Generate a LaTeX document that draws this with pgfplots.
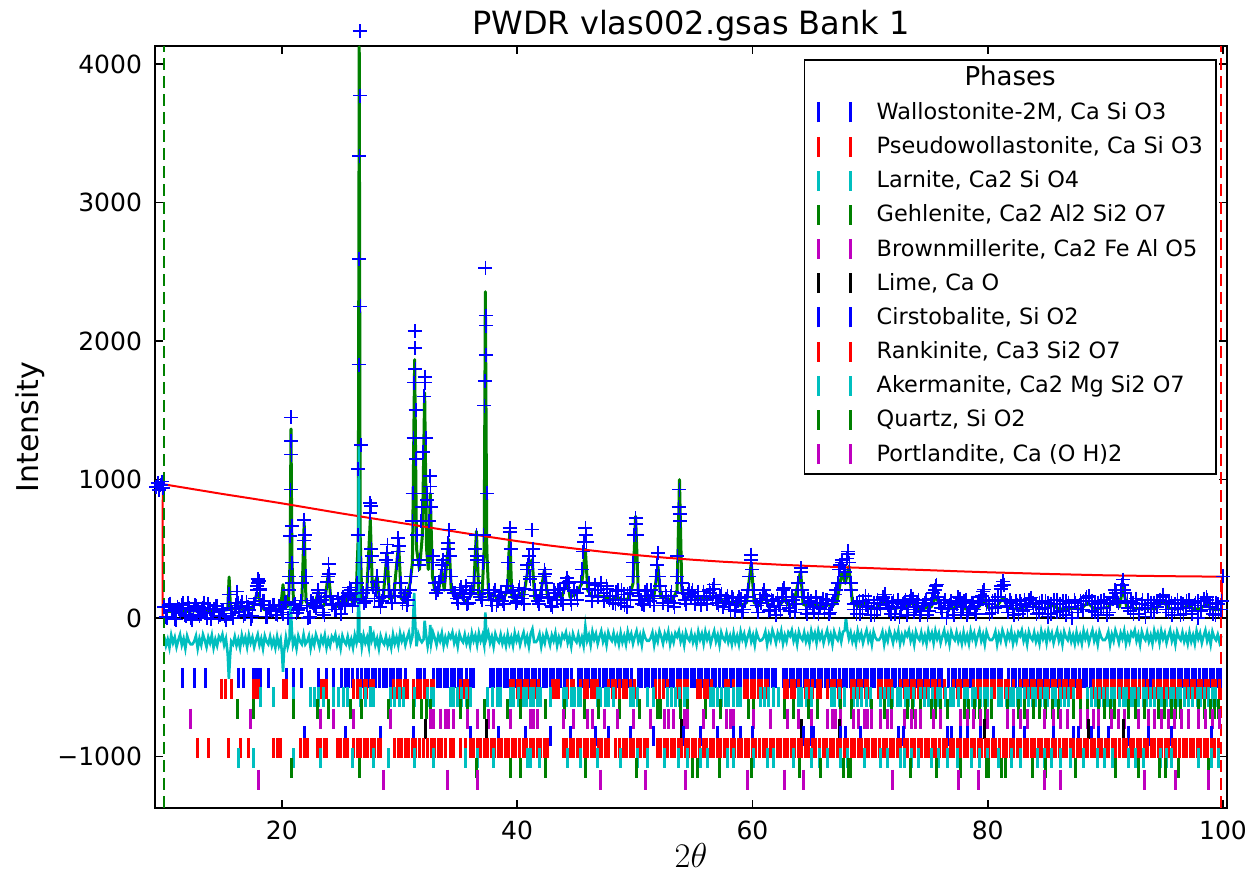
\documentclass[border=0pt]{standalone}
\usepackage{pgfplots}
\pgfplotsset{compat=1.18}
\usepackage{fontspec}
\setmainfont{DejaVu Sans}
\definecolor{mplb}{rgb}{0,0,1}
\definecolor{mplr}{rgb}{1,0,0}
\definecolor{mplc}{rgb}{0,0.75,0.75}
\definecolor{mplg}{rgb}{0,0.5,0}
\definecolor{mplm}{rgb}{0.75,0,0.75}
\pgfplotsset{
 phase/.style={only marks, mark=|, mark size=5pt, draw=#1, mark options={line width=1.5pt, draw=#1},
   legend image code/.code={\draw[line width=1.2pt,draw=#1] (0pt,-4.5pt)--(0pt,5.5pt) (16pt,-4.5pt)--(16pt,5.5pt);}},
 obs/.style={forget plot, draw=mplb, only marks, mark=+, mark size=3.5pt, mark options={draw=mplb, line width=0.85pt}},
}
\begin{document}
\begin{tikzpicture}
\begin{axis}[
 at={(0,0)}, anchor=south west,
 scale only axis, width=536pt, height=381pt,
 xmin=9.22, xmax=100.34, ymin=-1373, ymax=4132,
 clip=false,
 axis line style={line width=0.9pt},
 tick style={line width=0.8pt, black},
 tick align=inside, major tick length=4pt,
 xtick={20,40,60,80,100}, xticklabels={20,40,60,80,100},
 ytick={-1000,0,1000,2000,3000,4000}, yticklabels={−1000,0,1000,2000,3000,4000},
 ticklabel style={font=\fontsize{12.5}{15}\selectfont},
 xticklabel style={yshift=-3pt},
 yticklabel style={xshift=-3pt},
 title={PWDR vlas002.gsas Bank 1},
 every axis title shift=0pt,
 title style={at={(axis description cs:0.5,1)}, anchor=base, yshift=5.5pt, font=\fontsize{16}{19}\selectfont},
 xlabel={$2\theta$},
 every axis x label/.style={at={(axis description cs:0.5,-0.0617)}, anchor=center, font=\fontsize{17}{20}\selectfont},
 ylabel={Intensity},
 every axis y label/.style={at={(axis description cs:-0.1166,0.5)}, rotate=90, anchor=center, font=\fontsize{15}{18}\selectfont},
 legend cell align=left,
 legend style={at={(rel axis cs:0.9904,0.9826)}, anchor=north east, draw=black, line width=0.8pt, fill=white,
   inner xsep=6.5pt, inner ysep=4pt, font=\fontsize{11.2}{13}\selectfont, row sep=5.38pt,
   nodes={inner xsep=0pt, inner ysep=0pt, text height=8.6pt, text depth=2.6pt},
   /tikz/every odd column/.append style={column sep=12.5pt}, cells={anchor=west}},
]
% observed (two interleaved halves of the same scan)
\addplot[obs] coordinates {
(9.32,945)(9.45,975)(9.58,925)(9.7,960)(9.82,985)(9.92,940)
(10,78)(10.25,3)(10.5,103)(10.75,48)(11,-12)(11.25,68)(11.5,93)(11.75,23)(12,108)(12.25,-2)(12.5,58)(12.75,88)(13,13)(13.25,73)(13.5,38)(13.75,98)(14,-7)(14.25,63)(14.5,83)(14.75,18)(15,53)(15.25,-17)(15.5,170)(15.75,33)(16,68)(16.2,190)(16.25,110)(16.5,88)(16.75,13)(17,113)(17.25,58)(17.5,15)(17.75,140)(17.85,230)(17.95,282)(18,250)(18.05,265)(18.15,200)(18.25,95)(18.5,120)(18.75,10)(19,65)(19.25,95)(19.5,25)(19.75,85)(20,40)(20.1,60)(20.25,105)(20.5,0)(20.65,300)(20.7,590)(20.74,927)(20.77,1449)(20.8,1276)(20.82,1180)(20.85,662)(20.9,250)(21,90)(21.25,35)(21.5,70)(21.75,250)(21.85,560)(21.9,710)(21.95,600)(22.05,300)(22.25,0)(22.5,125)(22.75,85)(23,120)(23.1,203)(23.25,115)(23.5,40)(23.75,150)(23.9,300)(23.97,390)(24.05,320)(24.25,95)(24.5,60)(24.75,135)(25,30)(25.2,150)(25.4,100)(25.6,160)(25.75,219)(25.85,200)(26,85)(26.25,140)(26.45,600)(26.5,1077)(26.53,1830)(26.56,2594)(26.59,3335)(26.62,4238)(26.65,3774)(26.68,2251)(26.72,1247)(26.78,400)(27,110)(27.25,200)(27.4,400)(27.48,760)(27.52,831)(27.56,810)(27.62,500)(27.75,220)(28,200)(28.1,300)(28.25,140)(28.5,120)(28.8,300)(28.9,470)(28.97,530)(29.05,400)(29.25,160)(29.5,200)(29.8,400)(29.9,578)(29.97,520)(30.1,250)(30.25,110)(30.5,180)(30.75,130)(31,300)(31.1,700)(31.2,1300)(31.25,1700)(31.29,2071)(31.32,1950)(31.36,1800)(31.42,1150)(31.5,600)(31.7,420)(31.85,700)(32,1200)(32.1,1600)(32.14,1741)(32.18,1700)(32.25,1300)(32.35,900)(32.5,700)(32.62,1023)(32.7,800)(32.85,450)(33,250)(33.25,200)(33.5,300)(33.7,421)(33.85,350)(34.1,500)(34.2,638)(34.3,450)(34.5,200)(34.75,180)(35,110)(35.25,220)(35.5,150)(35.75,100)(36,180)(36.3,250)(36.45,500)(36.54,600)(36.62,450)(36.8,170)(37,130)(37.15,600)(37.22,1534)(37.26,1710)(37.3,2530)(37.34,2184)(37.38,2112)(37.45,900)(37.6,200)(37.8,130)(38,183)(38.25,90)(38.5,160)(38.75,120)(39,180)(39.25,400)(39.37,650)(39.45,500)(39.6,200)(39.8,150)(40,120)(40.2,220)(40.4,170)(40.6,100)(40.85,350)(40.98,445)(41.1,300)(41.28,638)(41.35,500)(41.5,200)(41.75,120)(42,170)(42.25,300)(42.33,349)(42.45,250)(42.75,140)(43,80)(43.25,180)(43.5,200)(43.75,130)(44,220)(44.26,291)(44.4,250)(44.6,130)(44.85,200)(45.1,180)(45.5,350)(45.7,550)(45.8,650)(45.9,550)(46.1,250)(46.35,160)(46.6,240)(46.85,200)(47.1,253)(47.35,180)(47.6,230)(47.85,130)(48.1,160)(48.35,100)(48.6,200)(48.85,110)(49.1,170)(49.35,80)(49.6,180)(49.85,300)(49.95,600)(50.07,720)(50.15,600)(50.3,200)(50.55,130)(50.8,90)(51.05,200)(51.3,120)(51.55,160)(51.8,300)(51.97,470)(52.1,300)(52.35,140)(52.6,190)(52.85,90)(53.1,160)(53.35,110)(53.6,300)(53.72,800)(53.8,927)(53.88,700)(54,250)(54.25,130)(54.5,170)(54.75,150)(54.9,205)(55.1,100)(55.35,160)(55.6,110)(55.85,190)(56.1,130)(56.35,200)(56.6,150)(56.75,241)(57,110)(57.25,160)(57.5,80)(57.75,140)(58,100)(58.25,150)(58.5,50)(58.75,120)(59,140)(59.25,60)(59.5,150)(59.75,300)(59.9,457)(60,350)(60.25,120)(60.5,40)(60.75,110)(61,200)(61.25,130)(61.5,60)(61.75,120)(62,20)(62.25,90)(62.5,150)(62.7,217)(62.9,120)(63.2,50)(63.45,130)(63.7,100)(63.9,250)(64.1,360)(64.25,200)(64.5,60)(64.75,140)(65,120)(65.25,40)(65.5,110)(65.75,70)(66,140)(66.25,130)(66.5,30)(66.75,100)(67,170)(67.25,250)(67.45,380)(67.6,420)(67.75,350)(67.9,300)(68.05,430)(68.15,481)(68.25,400)(68.4,200)(68.6,100)(68.85,30)(69.1,120)(69.35,60)(69.6,160)(69.85,80)(70.1,20)(70.35,110)(70.6,60)(70.85,100)(71.1,140)(71.25,170)(71.5,90)(71.75,30)(72,120)(72.25,80)(72.5,10)(72.75,100)(73,130)(73.25,60)(73.5,160)(73.75,40)(74,110)(74.25,20)(74.5,90)(74.75,130)(75,50)(75.25,140)(75.5,200)(75.65,241)(75.8,150)(76,70)(76.25,110)(76.5,0)(76.75,90)(77,60)(77.25,110)(77.5,150)(77.75,40)(78,120)(78.25,20)(78.5,80)(78.75,110)(79,30)(79.25,120)(79.5,160)(79.7,205)(79.9,100)(80.15,30)(80.4,120)(80.65,70)(80.9,150)(81.1,210)(81.3,264)(81.5,120)(81.75,40)(82,110)(82.25,20)(82.5,90)(82.75,120)(83,50)(83.25,100)(83.5,130)(83.7,147)(83.9,80)(84.15,30)(84.4,110)(84.65,60)(84.9,120)(85.15,10)(85.4,100)(85.65,130)(85.9,40)(86.15,100)(86.4,50)(86.65,120)(86.9,80)(87.15,0)(87.4,110)(87.65,60)(87.9,90)(88.15,120)(88.4,150)(88.6,160)(88.85,50)(89.1,100)(89.35,20)(89.6,120)(89.85,70)(90.1,110)(90.35,40)(90.6,150)(90.8,200)(91,120)(91.3,200)(91.5,277)(91.65,180)(91.9,70)(92.15,120)(92.4,30)(92.65,100)(92.9,60)(93.15,130)(93.4,10)(93.65,90)(93.9,110)(94.15,40)(94.4,100)(94.65,130)(94.9,168)(95.15,60)(95.4,120)(95.65,20)(95.9,100)(96.15,70)(96.4,110)(96.65,30)(96.9,120)(97.15,100)(97.4,50)(97.65,110)(97.9,0)(98.15,90)(98.4,120)(98.6,150)(98.85,60)(99.1,110)(99.35,20)(99.6,100)(99.85,60)(100,300)
};
\addplot[obs] coordinates {
(10.125,5)(10.375,95)(10.625,60)(10.875,-10)(11.125,80)(11.375,35)(11.625,105)(11.875,15)(12.125,70)(12.375,-15)(12.625,90)(12.875,50)(13.125,25)(13.375,110)(13.625,0)(13.875,65)(14.125,40)(14.375,85)(14.625,10)(14.875,55)(15.125,15)(15.375,105)(15.625,70)(15.875,0)(16.125,90)(16.375,45)(16.625,115)(16.875,25)(17.125,80)(17.375,-5)(17.625,100)(17.875,200)(18.125,210)(18.375,120)(18.625,10)(18.875,75)(19.125,50)(19.375,95)(19.625,20)(19.875,65)(20.125,25)(20.375,115)(20.625,200)(20.875,400)(21.125,100)(21.375,55)(21.625,125)(21.875,500)(22.125,90)(22.375,5)(22.625,110)(22.875,70)(23.125,180)(23.375,130)(23.625,20)(23.875,260)(24.125,160)(24.375,105)(24.625,60)(24.875,105)(25.125,110)(25.375,85)(25.625,180)(25.875,170)(26.125,130)(26.375,250)(26.875,180)(27.125,120)(27.375,300)(27.625,450)(27.875,140)(28.125,260)(28.375,80)(28.625,150)(28.875,420)(29.125,200)(29.375,110)(29.625,160)(29.875,480)(30.125,200)(30.375,150)(30.625,90)(30.875,200)(31.125,900)(31.375,1500)(31.625,380)(31.875,800)(32.125,1700)(32.375,850)(32.625,950)(32.875,400)(33.125,180)(33.375,260)(33.625,380)(33.875,300)(34.125,540)(34.375,300)(34.625,180)(34.875,140)(35.125,200)(35.375,170)(35.625,230)(35.875,110)(36.125,200)(36.375,300)(36.625,420)(36.875,150)(37.125,400)(37.375,1900)(37.625,180)(37.875,90)(38.125,200)(38.375,120)(38.625,190)(38.875,100)(39.125,230)(39.375,620)(39.625,190)(39.875,110)(40.125,200)(40.375,140)(40.625,210)(40.875,380)(41.125,280)(41.375,400)(41.625,160)(41.875,100)(42.125,200)(42.375,320)(42.625,150)(42.875,90)(43.125,200)(43.375,130)(43.625,210)(43.875,100)(44.125,250)(44.375,260)(44.625,100)(44.875,190)(45.125,130)(45.375,260)(45.625,480)(45.875,600)(46.125,210)(46.375,120)(46.625,200)(46.875,150)(47.125,230)(47.375,120)(47.625,210)(47.875,160)(48.125,110)(48.375,190)(48.625,130)(48.875,200)(49.125,90)(49.375,170)(49.625,130)(49.875,400)(50.125,680)(50.375,160)(50.625,100)(50.875,190)(51.125,140)(51.375,200)(51.625,90)(51.875,380)(52.125,230)(52.375,110)(52.625,160)(52.875,120)(53.125,190)(53.375,80)(53.625,450)(53.875,750)(54.125,180)(54.375,100)(54.625,200)(54.875,180)(55.125,130)(55.375,190)(55.625,90)(55.875,160)(56.125,100)(56.375,180)(56.625,210)(56.875,140)(57.125,90)(57.375,170)(57.625,110)(57.875,160)(58.125,60)(58.375,140)(58.625,90)(58.875,150)(59.125,40)(59.375,120)(59.625,200)(59.875,420)(60.125,200)(60.375,90)(60.625,140)(60.875,170)(61.125,160)(61.375,50)(61.625,130)(61.875,80)(62.125,140)(62.375,60)(62.625,200)(62.875,150)(63.125,70)(63.375,150)(63.625,40)(63.875,200)(64.125,330)(64.375,150)(64.625,30)(64.875,110)(65.125,80)(65.375,150)(65.625,30)(65.875,110)(66.125,60)(66.375,130)(66.625,40)(66.875,120)(67.125,200)(67.375,350)(67.625,400)(67.875,330)(68.125,460)(68.375,250)(68.625,60)(68.875,110)(69.125,30)(69.375,120)(69.625,90)(69.875,130)(70.125,60)(70.375,20)(70.625,130)(70.875,70)(71.125,150)(71.375,120)(71.625,60)(71.875,110)(72.125,30)(72.375,130)(72.625,70)(72.875,110)(73.125,20)(73.375,120)(73.625,140)(73.875,80)(74.125,130)(74.375,50)(74.625,110)(74.875,20)(75.125,100)(75.375,180)(75.625,230)(75.875,110)(76.125,40)(76.375,130)(76.625,60)(76.875,120)(77.125,20)(77.375,100)(77.625,140)(77.875,80)(78.125,130)(78.375,40)(78.625,110)(78.875,60)(79.125,90)(79.375,150)(79.625,190)(79.875,130)(80.125,100)(80.375,40)(80.625,130)(80.875,80)(81.125,230)(81.375,240)(81.625,90)(81.875,130)(82.125,60)(82.375,120)(82.625,30)(82.875,100)(83.125,130)(83.375,60)(83.625,140)(83.875,110)(84.125,100)(84.375,40)(84.625,120)(84.875,70)(85.125,110)(85.375,30)(85.625,100)(85.875,130)(86.125,50)(86.375,120)(86.625,20)(86.875,110)(87.125,80)(87.375,130)(87.625,40)(87.875,120)(88.125,60)(88.375,140)(88.625,150)(88.875,120)(89.125,40)(89.375,110)(89.625,70)(89.875,130)(90.125,20)(90.375,100)(90.625,140)(90.875,180)(91.125,110)(91.375,240)(91.625,200)(91.875,120)(92.125,50)(92.375,110)(92.625,140)(92.875,30)(93.125,100)(93.375,70)(93.625,130)(93.875,40)(94.125,110)(94.375,80)(94.625,120)(94.875,150)(95.125,100)(95.375,40)(95.625,110)(95.875,60)(96.125,130)(96.375,20)(96.625,100)(96.875,70)(97.125,130)(97.375,30)(97.625,90)(97.875,120)(98.125,50)(98.375,140)(98.625,130)(98.875,80)(99.125,30)(99.375,110)(99.625,60)(99.875,120)
};
% calculated
\addplot[forget plot, draw=mplg, line width=1.5pt, line join=round] coordinates {
(10,45)(10.5,48)(11,46)(11.5,50)(12,47)(12.5,52)(13,48)(13.5,55)(14,50)(14.5,52)(15,55)(15.4,60)(15.52,296)(15.64,60)(16,70)(16.2,120)(16.4,65)(17,58)(17.5,75)(17.9,180)(18,175)(18.2,90)(18.5,60)(19,55)(19.5,60)(19.9,70)(20.1,240)(20.3,75)(20.55,90)(20.7,400)(20.78,1365)(20.86,420)(21,100)(21.4,70)(21.7,110)(21.9,690)(22.05,120)(22.4,80)(22.8,100)(23.1,190)(23.3,85)(23.6,90)(23.97,330)(24.2,100)(24.6,80)(25,95)(25.2,150)(25.4,90)(25.8,200)(26,110)(26.3,120)(26.5,600)(26.58,4125)(26.66,600)(26.8,120)(27.2,150)(27.52,710)(27.7,200)(28.1,300)(28.3,120)(28.6,130)(28.94,472)(29.15,140)(29.5,150)(29.93,540)(30.15,140)(30.5,120)(30.9,250)(31.1,400)(31.29,1866)(31.45,500)(31.7,350)(31.95,600)(32.14,1626)(32.3,500)(32.45,350)(32.62,900)(32.8,300)(33,200)(33.3,180)(33.6,350)(33.8,200)(34.2,566)(34.4,200)(34.7,150)(35.2,156)(35.6,120)(36,150)(36.3,200)(36.54,626)(36.75,150)(37,130)(37.2,500)(37.3,2357)(37.42,500)(37.6,130)(38,180)(38.4,120)(38.8,130)(39.2,200)(39.37,626)(39.55,150)(39.9,130)(40.2,183)(40.5,130)(40.98,380)(41.28,421)(41.5,140)(41.9,130)(42.33,349)(42.6,140)(43,130)(43.5,160)(43.8,150)(44.26,277)(44.5,150)(45,170)(45.5,250)(45.8,494)(46,200)(46.4,150)(46.8,160)(47.1,156)(47.5,150)(48,130)(48.5,150)(49,130)(49.5,140)(49.85,250)(50.07,734)(50.3,180)(50.7,130)(51.2,150)(51.6,140)(51.97,373)(52.2,150)(52.7,140)(53.2,130)(53.6,200)(53.8,999)(54,200)(54.4,140)(54.9,170)(55.3,130)(55.8,150)(56.3,140)(56.7,160)(57.2,130)(57.7,120)(58.2,110)(58.6,100)(59,90)(59.5,110)(59.9,397)(60.15,110)(60.6,90)(61,156)(61.4,90)(61.9,80)(62.3,90)(62.7,132)(63.1,90)(63.5,100)(64.1,337)(64.3,100)(64.8,80)(65.3,100)(65.8,80)(66.3,100)(66.8,85)(67.2,120)(67.6,325)(67.9,250)(68.2,373)(68.5,110)(69,80)(69.5,110)(70,75)(70.5,70)(71.2,120)(71.6,75)(72.2,70)(72.8,80)(73.5,108)(74,70)(74.6,70)(75.2,80)(75.6,156)(76,75)(76.6,65)(77.1,70)(77.6,100)(78.1,65)(78.7,70)(79.2,75)(79.7,132)(80.1,70)(80.7,75)(81.3,147)(81.7,75)(82.3,65)(82.9,70)(83.7,110)(84.2,70)(84.8,65)(85.5,90)(86.1,65)(86.7,65)(87.3,70)(87.9,65)(88.5,110)(89,70)(89.6,70)(90.2,75)(90.8,130)(91.2,80)(91.5,228)(91.8,80)(92.4,70)(93,65)(93.6,70)(94.3,65)(94.9,120)(95.4,70)(96,65)(96.6,70)(97,90)(97.5,65)(98,65)(98.6,100)(99,65)(99.5,60)(99.9,60)
};
% background
\addplot[forget plot, draw=mplr, line width=1pt] coordinates {
(9.87,0)(9.88,968)(10,965)(12.5,930)(15,895)(17.5,862)(20,828)(22.5,792)(25,756)(27.5,722)(30,688)(32.5,654)(35,620)(37.5,587)(40,555)(42.5,526)(45,500)(47.5,476)(50,455)(52.5,436)(55,420)(57.5,406)(60,395)(62.5,384)(65,375)(67.5,367)(70,360)(72.5,352)(75,345)(77.5,337)(80,330)(82.5,324)(85,318)(87.5,313)(90,308)(92.5,305)(95,302)(97.5,300)(99.9,298)(99.91,0)
};
% difference
\addplot[forget plot, draw=mplc, line width=1.3pt] coordinates {
(10,-135)(10.15,-200)(10.3,-155)(10.45,-215)(10.6,-125)(10.75,-180)(10.9,-140)(11.05,-210)(11.2,-160)(11.35,-120)(11.5,-195)(11.65,-150)(11.8,-220)(11.95,-130)(12.1,-170)(12.25,-190)
(12.4,-190)(12.55,-170)(12.7,-130)(12.85,-220)(13,-150)(13.15,-195)(13.3,-120)(13.45,-160)(13.6,-210)(13.75,-140)(13.9,-180)(14.05,-125)(14.2,-215)(14.35,-155)(14.5,-200)(14.65,-135)
(14.8,-160)(14.95,-120)(15.1,-195)(15.25,-150)(15.4,-260)(15.5,-440)(15.6,-280)(15.7,-170)(15.85,-190)(16,-135)(16.15,-200)(16.3,-155)(16.45,-215)(16.6,-125)(16.75,-180)(16.9,-140)(17.05,-210)
(17.2,-125)(17.35,-180)(17.5,-140)(17.65,-210)(17.8,-160)(17.95,-120)(18.1,-195)(18.25,-150)(18.4,-220)(18.55,-130)(18.7,-170)(18.85,-190)(19,-135)(19.15,-200)(19.3,-155)(19.45,-215)
(19.6,-135)(19.75,-200)(19.9,-155)(20.02,-260)(20.1,-390)(20.18,-250)(20.35,-140)(20.5,-210)(20.65,-160)(20.75,120)(20.85,-90)(20.95,-195)(21.1,-150)(21.25,-220)(21.4,-130)(21.55,-170)(21.7,-190)(21.85,-120)
(22,-190)(22.15,-170)(22.3,-130)(22.45,-220)(22.6,-150)(22.75,-195)(22.9,-120)(23.05,-160)(23.2,-210)(23.35,-140)(23.5,-180)(23.65,-125)(23.8,-215)(23.95,-155)(24.1,-200)(24.25,-135)
(24.4,-160)(24.55,-120)(24.7,-195)(24.85,-150)(25,-220)(25.15,-130)(25.3,-170)(25.45,-190)(25.6,-135)(25.75,-200)(25.9,-155)(26.05,-215)(26.2,-125)(26.35,-180)(26.45,-140)(26.52,300)(26.55,1240)(26.58,-100)(26.63,-180)(26.68,-110)(26.8,-210)
(26.95,-125)(27.1,-180)(27.25,-140)(27.4,-210)(27.52,-60)(27.65,-160)(27.8,-120)(27.95,-195)(28.1,-150)(28.25,-220)(28.4,-130)(28.55,-170)(28.7,-190)(28.85,-135)(29,-200)(29.15,-155)(29.3,-215)
(29.45,-120)(29.6,-185)(29.75,-140)(29.9,-200)(30.05,-110)(30.2,-165)(30.35,-125)(30.5,-195)(30.65,-145)(30.8,-105)(30.95,-180)(31.1,-135)(31.25,180)(31.35,-60)(31.45,-205)(31.6,-115)(31.75,-155)
(31.9,-175)(32.05,-155)(32.14,-20)(32.25,-115)(32.4,-205)(32.55,-135)(32.62,-50)(32.7,-180)(32.85,-105)(33,-145)(33.15,-195)(33.3,-125)(33.45,-165)(33.6,-110)(33.75,-200)(33.9,-140)(34.05,-185)(34.2,-120)
(34.35,-145)(34.5,-105)(34.65,-180)(34.8,-135)(34.95,-205)(35.1,-115)(35.25,-155)(35.4,-175)(35.55,-120)(35.7,-185)(35.85,-140)(36,-200)(36.15,-110)(36.3,-165)(36.45,-125)(36.6,-195)
(36.75,-110)(36.9,-165)(37.05,-125)(37.2,-195)(37.3,40)(37.4,-145)(37.55,-105)(37.7,-180)(37.85,-135)(38,-205)(38.15,-115)(38.3,-155)(38.45,-175)(38.6,-120)(38.75,-185)(38.9,-140)(39.05,-200)
(39.2,-120)(39.35,-185)(39.5,-140)(39.65,-200)(39.8,-110)(39.95,-165)(40.1,-125)(40.25,-195)(40.4,-145)(40.55,-105)(40.7,-180)(40.85,-135)(41,-205)(41.15,-115)(41.3,-80)(41.45,-175)
(41.6,-175)(41.75,-155)(41.9,-115)(42.05,-205)(42.2,-135)(42.35,-180)(42.5,-105)(42.65,-145)(42.8,-195)(42.95,-125)(43.1,-165)(43.25,-110)(43.4,-200)(43.55,-140)(43.7,-185)(43.85,-120)
(44,-145)(44.15,-105)(44.3,-180)(44.45,-135)(44.6,-205)(44.75,-115)(44.9,-155)(45.05,-175)(45.2,-120)(45.35,-185)(45.5,-140)(45.65,-200)(45.8,-60)(45.95,-165)(46.1,-125)(46.25,-195)
(46.4,-100)(46.55,-155)(46.7,-115)(46.85,-185)(47,-135)(47.15,-95)(47.3,-170)(47.45,-125)(47.6,-195)(47.75,-105)(47.9,-145)(48.05,-165)(48.2,-110)(48.35,-175)(48.5,-130)(48.65,-190)
(48.8,-110)(48.95,-175)(49.1,-130)(49.25,-190)(49.4,-100)(49.55,-155)(49.7,-115)(49.85,-185)(50,-135)(50.15,-95)(50.3,-170)(50.45,-125)(50.6,-195)(50.75,-105)(50.9,-145)(51.05,-165)
(51.2,-165)(51.35,-145)(51.5,-105)(51.65,-195)(51.8,-125)(51.95,-170)(52.1,-95)(52.25,-135)(52.4,-185)(52.55,-115)(52.7,-155)(52.85,-100)(53,-190)(53.15,-130)(53.3,-175)(53.45,-110)
(53.6,-135)(53.75,-95)(53.9,-170)(54.05,-125)(54.2,-195)(54.35,-105)(54.5,-145)(54.65,-165)(54.8,-110)(54.95,-175)(55.1,-130)(55.25,-190)(55.4,-100)(55.55,-155)(55.7,-115)(55.85,-185)
(56,-100)(56.15,-155)(56.3,-115)(56.45,-185)(56.6,-135)(56.75,-95)(56.9,-170)(57.05,-125)(57.2,-195)(57.35,-105)(57.5,-145)(57.65,-165)(57.8,-110)(57.95,-175)(58.1,-130)(58.25,-190)
(58.4,-110)(58.55,-175)(58.7,-130)(58.85,-190)(59,-100)(59.15,-155)(59.3,-115)(59.45,-185)(59.6,-135)(59.75,-95)(59.9,-170)(60.05,-125)(60.2,-195)(60.35,-105)(60.5,-145)(60.65,-165)
(60.8,-160)(60.95,-140)(61.1,-100)(61.25,-190)(61.4,-120)(61.55,-165)(61.7,-90)(61.85,-130)(62,-180)(62.15,-110)(62.3,-150)(62.45,-95)(62.6,-185)(62.75,-125)(62.9,-170)(63.05,-105)
(63.2,-130)(63.35,-90)(63.5,-165)(63.65,-120)(63.8,-190)(63.95,-100)(64.1,-140)(64.25,-160)(64.4,-105)(64.55,-170)(64.7,-125)(64.85,-185)(65,-95)(65.15,-150)(65.3,-110)(65.45,-180)
(65.6,-95)(65.75,-150)(65.9,-110)(66.05,-180)(66.2,-130)(66.35,-90)(66.5,-165)(66.65,-120)(66.8,-190)(66.95,-100)(67.1,-140)(67.25,-160)(67.4,-105)(67.55,-170)(67.7,-100)(67.85,-90)(67.95,0)(68.05,-80)(68.2,-150)
(68.35,-105)(68.5,-170)(68.65,-125)(68.8,-185)(68.95,-95)(69.1,-150)(69.25,-110)(69.4,-180)(69.55,-130)(69.7,-90)(69.85,-165)(70,-120)(70.15,-190)(70.3,-100)(70.45,-140)(70.6,-160)
(70.75,-160)(70.9,-140)(71.05,-100)(71.2,-190)(71.35,-120)(71.5,-165)(71.65,-90)(71.8,-130)(71.95,-180)(72.1,-110)(72.25,-150)(72.4,-95)(72.55,-185)(72.7,-125)(72.85,-170)(73,-105)
(73.15,-130)(73.3,-90)(73.45,-165)(73.6,-120)(73.75,-190)(73.9,-100)(74.05,-140)(74.2,-160)(74.35,-105)(74.5,-170)(74.65,-125)(74.8,-185)(74.95,-95)(75.1,-150)(75.25,-110)(75.4,-180)
(75.55,-95)(75.7,-150)(75.85,-110)(76,-180)(76.15,-130)(76.3,-90)(76.45,-165)(76.6,-120)(76.75,-190)(76.9,-100)(77.05,-140)(77.2,-160)(77.35,-105)(77.5,-170)(77.65,-125)(77.8,-185)
(77.95,-105)(78.1,-170)(78.25,-125)(78.4,-185)(78.55,-95)(78.7,-150)(78.85,-110)(79,-180)(79.15,-130)(79.3,-90)(79.45,-165)(79.6,-120)(79.75,-190)(79.9,-100)(80.05,-140)(80.2,-160)
(80.35,-160)(80.5,-140)(80.65,-100)(80.8,-190)(80.95,-120)(81.1,-165)(81.25,-90)(81.4,-130)(81.55,-180)(81.7,-110)(81.85,-150)(82,-95)(82.15,-185)(82.3,-125)(82.45,-170)(82.6,-105)
(82.75,-130)(82.9,-90)(83.05,-165)(83.2,-120)(83.35,-190)(83.5,-100)(83.65,-140)(83.8,-160)(83.95,-105)(84.1,-170)(84.25,-125)(84.4,-185)(84.55,-95)(84.7,-150)(84.85,-110)(85,-180)
(85.15,-95)(85.3,-150)(85.45,-110)(85.6,-180)(85.75,-130)(85.9,-90)(86.05,-165)(86.2,-120)(86.35,-190)(86.5,-100)(86.65,-140)(86.8,-160)(86.95,-105)(87.1,-170)(87.25,-125)(87.4,-185)
(87.55,-105)(87.7,-170)(87.85,-125)(88,-185)(88.15,-95)(88.3,-150)(88.45,-110)(88.6,-180)(88.75,-130)(88.9,-90)(89.05,-165)(89.2,-120)(89.35,-190)(89.5,-100)(89.65,-140)(89.8,-160)
(89.95,-160)(90.1,-140)(90.25,-100)(90.4,-190)(90.55,-120)(90.7,-165)(90.85,-90)(91,-130)(91.15,-180)(91.3,-110)(91.45,-150)(91.6,-95)(91.75,-185)(91.9,-125)(92.05,-170)(92.2,-105)
(92.35,-130)(92.5,-90)(92.65,-165)(92.8,-120)(92.95,-190)(93.1,-100)(93.25,-140)(93.4,-160)(93.55,-105)(93.7,-170)(93.85,-125)(94,-185)(94.15,-95)(94.3,-150)(94.45,-110)(94.6,-180)
(94.75,-95)(94.9,-150)(95.05,-110)(95.2,-180)(95.35,-130)(95.5,-90)(95.65,-165)(95.8,-120)(95.95,-190)(96.1,-100)(96.25,-140)(96.4,-160)(96.55,-105)(96.7,-170)(96.85,-125)(97,-185)
(97.15,-105)(97.3,-170)(97.45,-125)(97.6,-185)(97.75,-95)(97.9,-150)(98.05,-110)(98.2,-180)(98.35,-130)(98.5,-90)(98.65,-165)(98.8,-120)(98.95,-190)(99.1,-100)(99.25,-140)(99.4,-160)(99.55,-120)(99.7,-175)(99.85,-130)
};
% zero line
\addplot[forget plot, draw=black, line width=1pt] coordinates {(9.22,0)(100.34,0)};
% limits
\addplot[forget plot, draw=mplg, line width=1pt, dash pattern=on 6pt off 3pt] coordinates {(9.99,-1373)(9.99,4132)};
\addplot[forget plot, draw=mplr, line width=1pt, dash pattern=on 6pt off 3pt] coordinates {(99.84,-1373)(99.84,4132)};
% legend title
\addlegendimage{empty legend}
\addlegendentry{\makebox[133.4pt][c]{\fontsize{13}{15}\selectfont Phases}}
% phase tick rows
\addplot[phase=mplb] coordinates {
(11.6,-433)(12.6,-433)(13.5,-433)(16.3,-433)(16.7,-433)(17.6,-433)(17.8,-433)(18,-433)(18.2,-433)(18.9,-433)(20.4,-433)(21,-433)(21.7,-433)(23.1,-433)(23.8,-433)(24.4,-433)(25.1,-433)(25.4,-433)(25.7,-433)(26,-433)(26.4,-433)(26.8,-433)(27.1,-433)(27.4,-433)(27.7,-433)(28,-433)(28.3,-433)(28.6,-433)(28.9,-433)(29.2,-433)(29.5,-433)(29.8,-433)(30.1,-433)(30.5,-433)(31.5,-433)(31.8,-433)(32.1,-433)(32.9,-433)(33.2,-433)(33.5,-433)(33.8,-433)(34.1,-433)(34.4,-433)(34.7,-433)(35,-433)(35.3,-433)(35.7,-433)(36,-433)(36.3,-433)(37.7,-433)(38,-433)(38.3,-433)(38.6,-433)(38.9,-433)(39.2,-433)(39.5,-433)(39.8,-433)(40.1,-433)(40.4,-433)(40.7,-433)(41,-433)(41.3,-433)(41.6,-433)(41.9,-433)(42.2,-433)(42.5,-433)(42.8,-433)(43.1,-433)(43.4,-433)(43.7,-433)(44,-433)(44.3,-433)(44.6,-433)(45.2,-433)(45.5,-433)(45.8,-433)(46.1,-433)(46.4,-433)(46.7,-433)(47,-433)(47.3,-433)(47.6,-433)(47.9,-433)(48.2,-433)(48.5,-433)(48.8,-433)(49.1,-433)(49.4,-433)(49.7,-433)(50.3,-433)(50.6,-433)(50.9,-433)(51.2,-433)(51.5,-433)(51.8,-433)(52.1,-433)(52.4,-433)(52.7,-433)(53,-433)(53.3,-433)(53.6,-433)(53.9,-433)(54.2,-433)(54.5,-433)(54.8,-433)(55.1,-433)(55.4,-433)(55.7,-433)(56,-433)(56.3,-433)(56.6,-433)(56.9,-433)(57.2,-433)(57.5,-433)(57.8,-433)(58.1,-433)(58.4,-433)(58.7,-433)(59,-433)(59.3,-433)(59.6,-433)(59.9,-433)(60.2,-433)(60.5,-433)(60.8,-433)(61.1,-433)(61.4,-433)(61.7,-433)(62,-433)(62.6,-433)(62.9,-433)(63.2,-433)(63.5,-433)(63.8,-433)(64.1,-433)(64.4,-433)(64.7,-433)(65,-433)(65.3,-433)(65.6,-433)(65.9,-433)(66.2,-433)(66.5,-433)(66.8,-433)(67.1,-433)(67.4,-433)(67.7,-433)(68,-433)(68.3,-433)(68.6,-433)(68.9,-433)(69.2,-433)(69.5,-433)(69.8,-433)(70.1,-433)(70.4,-433)(70.7,-433)(71,-433)(71.3,-433)(71.6,-433)(71.9,-433)(72.2,-433)(72.5,-433)(72.8,-433)(73.1,-433)(73.4,-433)(73.7,-433)(74,-433)(74.3,-433)(74.6,-433)(74.9,-433)(75.2,-433)(75.5,-433)(75.8,-433)(76.1,-433)(76.7,-433)(77,-433)(77.3,-433)(77.6,-433)(77.9,-433)(78.2,-433)(78.5,-433)(78.8,-433)(79.1,-433)(79.4,-433)(79.7,-433)(80,-433)(80.3,-433)(80.6,-433)(80.9,-433)(81.2,-433)(81.8,-433)(82.1,-433)(82.4,-433)(82.7,-433)(83,-433)(83.3,-433)(83.6,-433)(83.9,-433)(84.2,-433)(84.5,-433)(84.8,-433)(85.1,-433)(85.4,-433)(85.7,-433)(86,-433)(86.3,-433)(86.6,-433)(86.9,-433)(87.2,-433)(87.5,-433)(87.8,-433)(88.1,-433)(88.4,-433)(88.7,-433)(89,-433)(89.3,-433)(89.6,-433)(89.9,-433)(90.2,-433)(90.5,-433)(90.8,-433)(91.1,-433)(91.4,-433)(91.7,-433)(92,-433)(92.3,-433)(92.6,-433)(92.9,-433)(93.2,-433)(93.5,-433)(93.8,-433)(94.1,-433)(94.4,-433)(94.7,-433)(95,-433)(95.3,-433)(95.6,-433)(95.9,-433)(96.2,-433)(96.5,-433)(96.8,-433)(97.1,-433)(97.4,-433)(97.7,-433)(98,-433)(98.3,-433)(98.6,-433)(98.9,-433)(99.2,-433)(99.5,-433)(99.8,-433)
};
\addlegendentry{Wallostonite-2M, Ca Si O3}
\addplot[phase=mplr] coordinates {
(14.9,-511)(15.2,-511)(15.7,-511)(17.6,-511)(17.8,-511)(18,-511)(20.1,-511)(20.4,-511)(23.4,-511)(23.6,-511)(23.8,-511)(26.1,-511)(26.4,-511)(26.7,-511)(27,-511)(27.2,-511)(27.5,-511)(27.8,-511)(29.5,-511)(29.8,-511)(30.1,-511)(30.4,-511)(30.7,-511)(31.2,-511)(31.5,-511)(31.8,-511)(32.1,-511)(32.4,-511)(32.7,-511)(32.9,-511)(35.2,-511)(35.5,-511)(35.8,-511)(39.4,-511)(39.7,-511)(40,-511)(40.3,-511)(40.6,-511)(40.9,-511)(41.2,-511)(41.5,-511)(41.8,-511)(43,-511)(43.3,-511)(43.5,-511)(44.3,-511)(44.6,-511)(44.8,-511)(45.4,-511)(45.7,-511)(46,-511)(46.3,-511)(46.6,-511)(46.8,-511)(47.8,-511)(48.1,-511)(48.4,-511)(48.7,-511)(49,-511)(49.3,-511)(49.6,-511)(50,-511)(51.8,-511)(52.1,-511)(52.4,-511)(52.8,-511)(53.6,-511)(53.9,-511)(54.2,-511)(54.5,-511)(55.3,-511)(55.6,-511)(55.9,-511)(56.2,-511)(56.5,-511)(57.7,-511)(58,-511)(58.4,-511)(59.3,-511)(59.6,-511)(59.9,-511)(60.2,-511)(60.5,-511)(60.8,-511)(61.1,-511)(61.3,-511)(62.7,-511)(63,-511)(63.3,-511)(63.6,-511)(63.9,-511)(64.5,-511)(64.8,-511)(65.1,-511)(65.5,-511)(65.8,-511)(66.4,-511)(66.7,-511)(67,-511)(67.3,-511)(67.5,-511)(68.4,-511)(68.7,-511)(69,-511)(69.3,-511)(69.6,-511)(69.8,-511)(70.7,-511)(71,-511)(71.3,-511)(71.6,-511)(71.8,-511)(72.6,-511)(72.9,-511)(73.2,-511)(73.5,-511)(73.8,-511)(74.1,-511)(74.4,-511)(74.7,-511)(75,-511)(75.3,-511)(75.6,-511)(75.9,-511)(76.3,-511)(77.1,-511)(77.4,-511)(77.7,-511)(78,-511)(78.3,-511)(78.8,-511)(79.1,-511)(79.4,-511)(79.7,-511)(80,-511)(80.3,-511)(80.6,-511)(80.9,-511)(81.2,-511)(81.5,-511)(81.8,-511)(82.2,-511)(82.8,-511)(83.1,-511)(83.4,-511)(83.7,-511)(84,-511)(84.3,-511)(84.6,-511)(84.9,-511)(85.2,-511)(85.5,-511)(85.8,-511)(86.1,-511)(86.4,-511)(86.7,-511)(87,-511)(87.3,-511)(87.6,-511)(87.9,-511)(89,-511)(89.3,-511)(89.6,-511)(89.9,-511)(90.2,-511)(90.5,-511)(90.8,-511)(91.1,-511)(91.4,-511)(91.7,-511)(92,-511)(92.3,-511)(92.6,-511)(92.9,-511)(93.2,-511)(93.6,-511)(94.1,-511)(94.4,-511)(94.7,-511)(95,-511)(95.3,-511)(95.6,-511)(95.9,-511)(96.2,-511)(96.4,-511)(96.7,-511)(97,-511)(97.3,-511)(97.6,-511)(97.9,-511)(98.2,-511)(98.5,-511)(98.8,-511)(99.1,-511)(99.4,-511)(99.7,-511)
};
\addlegendentry{Pseudowollastonite, Ca Si O3}
\addplot[phase=mplc] coordinates {
(18.2,-571)(19.3,-571)(21,-571)(22.4,-571)(22.8,-571)(23.1,-571)(23.5,-571)(24.4,-571)(24.8,-571)(25.2,-571)(25.6,-571)(26.7,-571)(27.1,-571)(27.5,-571)(27.8,-571)(29.2,-571)(29.6,-571)(30,-571)(30.3,-571)(31.3,-571)(32.4,-571)(32.7,-571)(32.9,-571)(34.3,-571)(34.6,-571)(34.9,-571)(35.3,-571)(35.7,-571)(36,-571)(37.5,-571)(37.9,-571)(38.3,-571)(38.6,-571)(39.4,-571)(39.7,-571)(40.1,-571)(40.5,-571)(40.8,-571)(41.1,-571)(41.4,-571)(41.7,-571)(42,-571)(42.8,-571)(43.9,-571)(44.2,-571)(44.6,-571)(44.9,-571)(45.2,-571)(45.4,-571)(46.8,-571)(47.1,-571)(47.5,-571)(47.8,-571)(48.2,-571)(49.6,-571)(49.9,-571)(50.2,-571)(51.1,-571)(51.6,-571)(52.8,-571)(53.1,-571)(53.5,-571)(53.8,-571)(54.2,-571)(54.5,-571)(56.4,-571)(56.7,-571)(57,-571)(57.4,-571)(57.7,-571)(58,-571)(58.4,-571)(58.7,-571)(59,-571)(60.7,-571)(61,-571)(61.4,-571)(61.8,-571)(62.2,-571)(63.9,-571)(64.2,-571)(64.6,-571)(65,-571)(66.7,-571)(67,-571)(67.4,-571)(67.8,-571)(68.6,-571)(68.9,-571)(69.3,-571)(69.7,-571)(70,-571)(70.9,-571)(71.2,-571)(71.6,-571)(71.9,-571)(72.3,-571)(72.6,-571)(73,-571)(73.3,-571)(73.7,-571)(74.3,-571)(74.6,-571)(75,-571)(75.3,-571)(75.7,-571)(76,-571)(76.4,-571)(76.8,-571)(77.1,-571)(77.5,-571)(78,-571)(78.3,-571)(78.7,-571)(79,-571)(79.4,-571)(79.7,-571)(80,-571)(80.3,-571)(80.9,-571)(81.2,-571)(81.6,-571)(81.9,-571)(82.2,-571)(82.5,-571)(82.8,-571)(83.1,-571)(83.5,-571)(83.8,-571)(84.1,-571)(84.5,-571)(84.8,-571)(85.1,-571)(85.5,-571)(85.8,-571)(86.2,-571)(86.5,-571)(86.9,-571)(87.3,-571)(88.5,-571)(88.8,-571)(89.2,-571)(89.5,-571)(89.8,-571)(90.2,-571)(90.5,-571)(90.8,-571)(91.2,-571)(91.5,-571)(91.8,-571)(92.2,-571)(92.5,-571)(92.8,-571)(93.2,-571)(93.5,-571)(93.8,-571)(94.2,-571)(94.5,-571)(94.8,-571)(95.2,-571)(95.5,-571)(95.8,-571)(96.1,-571)(96.4,-571)(96.7,-571)(97.1,-571)(97.4,-571)(97.8,-571)(98.1,-571)(98.4,-571)(98.8,-571)(99.1,-571)(99.4,-571)
};
\addlegendentry{Larnite, Ca2 Si O4}
\addplot[phase=mplg] coordinates {
(16.2,-660)(17.6,-660)(21,-660)(23,-660)(24,-660)(25.8,-660)(26.8,-660)(29.1,-660)(31.2,-660)(31.9,-660)(32.3,-660)(32.6,-660)(35.2,-660)(35.8,-660)(37.2,-660)(39.2,-660)(40.3,-660)(42.4,-660)(44,-660)(45.7,-660)(46.9,-660)(48.7,-660)(50.4,-660)(51.9,-660)(52.2,-660)(53.9,-660)(54.5,-660)(56,-660)(57.3,-660)(59.7,-660)(60.1,-660)(62.7,-660)(63.5,-660)(64.8,-660)(65.5,-660)(67.5,-660)(68.4,-660)(70.1,-660)(71.2,-660)(71.8,-660)(73.2,-660)(73.6,-660)(74.3,-660)(75.2,-660)(75.6,-660)(76,-660)(76.6,-660)(78,-660)(78.4,-660)(78.9,-660)(79.3,-660)(79.8,-660)(80.3,-660)(81.7,-660)(82.6,-660)(83.1,-660)(83.9,-660)(84.4,-660)(84.9,-660)(85.5,-660)(86,-660)(87.3,-660)(87.9,-660)(88.5,-660)(89.4,-660)(89.9,-660)(90.4,-660)(90.8,-660)(92,-660)(92.6,-660)(93.3,-660)(94.5,-660)(95,-660)(95.6,-660)(96,-660)(96.4,-660)(97.9,-660)(98.4,-660)(98.9,-660)(99.3,-660)(99.6,-660)
};
\addlegendentry{Gehlenite, Ca2 Al2 Si2 O7}
\addplot[phase=mplm] coordinates {
(12.2,-728)(17.3,-728)(23.3,-728)(24.4,-728)(26.1,-728)(29.2,-728)(32.6,-728)(32.9,-728)(33.5,-728)(33.9,-728)(34.2,-728)(34.6,-728)(35.8,-728)(36.6,-728)(37.6,-728)(38,-728)(39.4,-728)(41.1,-728)(41.4,-728)(41.7,-728)(43.9,-728)(44.8,-728)(46,-728)(46.4,-728)(47.4,-728)(48.5,-728)(49.9,-728)(51.3,-728)(52.5,-728)(52.9,-728)(53.3,-728)(54.2,-728)(54.5,-728)(55.8,-728)(56.7,-728)(57.8,-728)(58.1,-728)(58.4,-728)(60.1,-728)(61.5,-728)(63,-728)(63.9,-728)(65,-728)(66.4,-728)(66.8,-728)(67.1,-728)(67.5,-728)(68.6,-728)(69,-728)(69.5,-728)(69.8,-728)(70.1,-728)(70.9,-728)(71.5,-728)(71.8,-728)(72.9,-728)(73.5,-728)(73.9,-728)(74.3,-728)(75.4,-728)(76,-728)(77.7,-728)(78.3,-728)(78.8,-728)(79.4,-728)(80,-728)(81.7,-728)(82.2,-728)(82.8,-728)(83.4,-728)(84.8,-728)(85.6,-728)(86.2,-728)(86.8,-728)(87.9,-728)(88.5,-728)(89,-728)(89.4,-728)(90.5,-728)(91.1,-728)(91.6,-728)(92.8,-728)(93.7,-728)(94.2,-728)(94.8,-728)(95.4,-728)(95.9,-728)(96.5,-728)(97.1,-728)(97.9,-728)(98.5,-728)(99.1,-728)(99.7,-728)
};
\addlegendentry{Brownmillerite, Ca2 Fe Al O5}
\addplot[phase=black] coordinates {
(32.2,-805)(37.4,-805)(54,-805)(64.2,-805)(67.4,-805)(79.7,-805)(88.6,-805)(91.5,-805)
};
\addlegendentry{Lime, Ca O}
\addplot[phase=mplb] coordinates {
(21.9,-855)(25.4,-855)(28.4,-855)(31.2,-855)(36,-855)(38.4,-855)(40.7,-855)(42.8,-855)(44.5,-855)(46.7,-855)(47.8,-855)(49.6,-855)(51.6,-855)(54.1,-855)(55.6,-855)(57,-855)(58.4,-855)(59,-855)(60,-855)(64.3,-855)(65,-855)(65.2,-855)(67.5,-855)(67.9,-855)(69.2,-855)(72.4,-855)(72.8,-855)(76.6,-855)(76.9,-855)(77.7,-855)(78.3,-855)(79.4,-855)(80.5,-855)(82.2,-855)(83.1,-855)(85.6,-855)(87.3,-855)(87.7,-855)(88.8,-855)(89.4,-855)(90.3,-855)(92,-855)(93.7,-855)(95.6,-855)(99,-855)
};
\addlegendentry{Cirstobalite, Si O2}
\addplot[phase=mplr] coordinates {
(12.8,-939)(13.8,-939)(15.5,-939)(16.5,-939)(17.2,-939)(19.3,-939)(19.6,-939)(19.9,-939)(21.6,-939)(21.9,-939)(22.2,-939)(23,-939)(23.3,-939)(23.6,-939)(23.8,-939)(24.7,-939)(25,-939)(25.3,-939)(25.6,-939)(26.1,-939)(26.4,-939)(26.7,-939)(27,-939)(27.3,-939)(27.6,-939)(27.9,-939)(28.2,-939)(28.4,-939)(29.6,-939)(29.9,-939)(30.2,-939)(30.5,-939)(30.8,-939)(31.1,-939)(31.4,-939)(31.7,-939)(32,-939)(32.4,-939)(32.7,-939)(33,-939)(33.3,-939)(33.6,-939)(33.9,-939)(34.3,-939)(34.6,-939)(35.2,-939)(35.6,-939)(36,-939)(36.3,-939)(36.6,-939)(36.9,-939)(37.2,-939)(37.5,-939)(37.8,-939)(38.1,-939)(38.4,-939)(38.7,-939)(39,-939)(39.3,-939)(39.6,-939)(39.9,-939)(40.2,-939)(40.5,-939)(40.8,-939)(41.1,-939)(41.4,-939)(41.7,-939)(42,-939)(42.3,-939)(42.6,-939)(43.9,-939)(44.2,-939)(44.5,-939)(44.8,-939)(45.1,-939)(45.4,-939)(45.7,-939)(46,-939)(46.3,-939)(46.6,-939)(46.9,-939)(47.2,-939)(47.5,-939)(47.8,-939)(48.4,-939)(48.7,-939)(49,-939)(49.3,-939)(49.6,-939)(49.9,-939)(50.2,-939)(50.5,-939)(50.8,-939)(51.1,-939)(51.9,-939)(52.2,-939)(52.5,-939)(52.8,-939)(53.1,-939)(53.4,-939)(53.7,-939)(54,-939)(54.3,-939)(54.6,-939)(54.9,-939)(55.2,-939)(55.5,-939)(55.8,-939)(56.1,-939)(56.4,-939)(56.7,-939)(57,-939)(57.3,-939)(57.6,-939)(57.9,-939)(58.2,-939)(58.5,-939)(58.8,-939)(59.1,-939)(59.4,-939)(59.7,-939)(60,-939)(60.3,-939)(60.6,-939)(60.9,-939)(61.2,-939)(61.5,-939)(61.8,-939)(62.1,-939)(62.4,-939)(62.7,-939)(63,-939)(63.3,-939)(63.6,-939)(63.9,-939)(64.2,-939)(64.5,-939)(64.8,-939)(65.1,-939)(65.4,-939)(65.7,-939)(66,-939)(66.3,-939)(66.6,-939)(66.9,-939)(67.2,-939)(67.5,-939)(67.8,-939)(68.1,-939)(68.4,-939)(68.7,-939)(69,-939)(69.3,-939)(69.6,-939)(69.9,-939)(70.2,-939)(70.5,-939)(70.8,-939)(71.1,-939)(71.4,-939)(71.7,-939)(72,-939)(72.3,-939)(72.6,-939)(72.9,-939)(73.2,-939)(73.5,-939)(73.8,-939)(74.1,-939)(74.4,-939)(74.7,-939)(75,-939)(75.3,-939)(75.6,-939)(75.9,-939)(76.2,-939)(76.5,-939)(76.8,-939)(77.1,-939)(77.4,-939)(77.7,-939)(78,-939)(78.3,-939)(78.6,-939)(78.9,-939)(79.2,-939)(79.5,-939)(79.8,-939)(80.1,-939)(80.4,-939)(80.7,-939)(81,-939)(81.3,-939)(81.6,-939)(81.9,-939)(82.2,-939)(82.5,-939)(82.8,-939)(83.1,-939)(83.4,-939)(83.7,-939)(84,-939)(84.3,-939)(84.6,-939)(84.9,-939)(85.2,-939)(85.5,-939)(85.8,-939)(86.1,-939)(86.4,-939)(86.7,-939)(87,-939)(87.3,-939)(87.6,-939)(87.9,-939)(88.2,-939)(88.5,-939)(88.8,-939)(89.1,-939)(89.4,-939)(89.7,-939)(90,-939)(90.3,-939)(90.6,-939)(90.9,-939)(91.2,-939)(91.5,-939)(91.8,-939)(92.1,-939)(92.4,-939)(92.7,-939)(93,-939)(93.3,-939)(93.6,-939)(93.9,-939)(94.2,-939)(94.5,-939)(94.8,-939)(95.1,-939)(95.4,-939)(95.7,-939)(96,-939)(96.3,-939)(96.6,-939)(96.9,-939)(97.2,-939)(97.5,-939)(97.8,-939)(98.1,-939)(98.4,-939)(98.7,-939)(99,-939)(99.3,-939)(99.6,-939)
};
\addlegendentry{Rankinite, Ca3 Si2 O7}
\addplot[phase=mplc] coordinates {
(16.3,-1012)(17.6,-1012)(21,-1012)(23.3,-1012)(26,-1012)(27.8,-1012)(29.1,-1012)(31.3,-1012)(32.9,-1012)(35.6,-1012)(36.6,-1012)(38,-1012)(40.9,-1012)(41.1,-1012)(41.9,-1012)(44.3,-1012)(45.4,-1012)(46.8,-1012)(48.8,-1012)(50.2,-1012)(51.1,-1012)(52.5,-1012)(53.7,-1012)(54.5,-1012)(55.6,-1012)(56.2,-1012)(57.9,-1012)(58.4,-1012)(60.1,-1012)(61.3,-1012)(61.8,-1012)(63.5,-1012)(65,-1012)(65.7,-1012)(66.4,-1012)(67.5,-1012)(68.1,-1012)(69.5,-1012)(70.9,-1012)(71.5,-1012)(72.6,-1012)(72.9,-1012)(73.5,-1012)(74.1,-1012)(75.2,-1012)(75.8,-1012)(76.6,-1012)(77.4,-1012)(78.6,-1012)(79.3,-1012)(80,-1012)(80.9,-1012)(82,-1012)(82.8,-1012)(84.2,-1012)(84.8,-1012)(85.4,-1012)(86.2,-1012)(87,-1012)(88.1,-1012)(89.3,-1012)(89.9,-1012)(90.6,-1012)(92,-1012)(92.6,-1012)(93.2,-1012)(94.7,-1012)(95.2,-1012)(95.6,-1012)(97.9,-1012)(99,-1012)(99.6,-1012)
};
\addlegendentry{Akermanite, Ca2 Mg Si2 O7}
\addplot[phase=mplg] coordinates {
(20.86,-1084)(26.64,-1084)(36.54,-1084)(39.46,-1084)(40.29,-1084)(42.45,-1084)(45.79,-1084)(50.14,-1084)(54.87,-1084)(55.32,-1084)(57.24,-1084)(59.96,-1084)(63.99,-1084)(65.79,-1084)(67.74,-1084)(68.14,-1084)(68.31,-1084)(73.46,-1084)(75.66,-1084)(77.67,-1084)(79.87,-1084)(80.05,-1084)(81.17,-1084)(81.49,-1084)(83.84,-1084)(84.95,-1084)(87.44,-1084)(90.83,-1084)(92.79,-1084)(94.64,-1084)(95.09,-1084)(96.24,-1084)(98.74,-1084)
};
\addlegendentry{Quartz, Si O2}
\addplot[phase=mplm] coordinates {
(18,-1168)(28.6,-1168)(34.1,-1168)(36.6,-1168)(47.1,-1168)(50.9,-1168)(54.3,-1168)(59.6,-1168)(62.7,-1168)(64.3,-1168)(71.9,-1168)(77.5,-1168)(79.2,-1168)(84.8,-1168)(86.2,-1168)(93.3,-1168)(96,-1168)(98.8,-1168)
};
\addlegendentry{Portlandite, Ca (O H)2}
\end{axis}
\pgfresetboundingbox
\path[use as bounding box] (-77.5pt,-34.5pt) rectangle (546pt,404pt);
\end{tikzpicture}
\end{document}
